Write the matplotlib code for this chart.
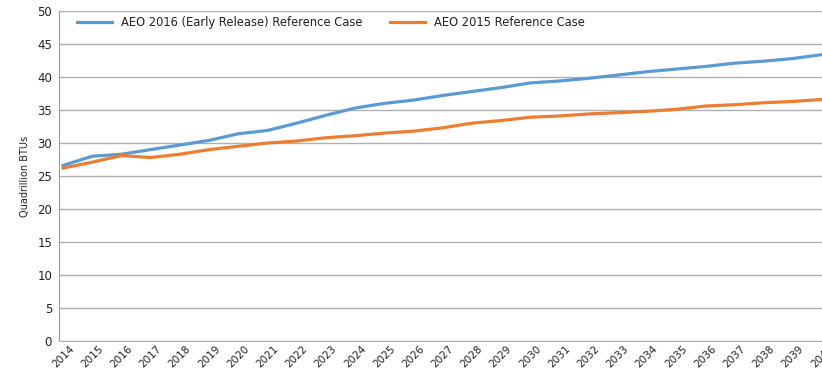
import matplotlib
matplotlib.use("Agg")
import matplotlib.pyplot as plt

years = list(range(2014, 2041))
aeo2016 = [26.6, 28.0, 28.3, 29.0, 29.7, 30.4, 31.4, 31.9, 33.0, 34.2, 35.3, 36.0, 36.5, 37.2,
           37.8, 38.4, 39.1, 39.4, 39.8, 40.3, 40.8, 41.2, 41.6, 42.1, 42.4, 42.8, 43.4]
aeo2015 = [26.2, 27.1, 28.1, 27.8, 28.3, 29.0, 29.5, 30.0, 30.3, 30.8, 31.1, 31.5, 31.8, 32.3,
           33.0, 33.4, 33.9, 34.1, 34.4, 34.6, 34.8, 35.1, 35.6, 35.8, 36.1, 36.3, 36.6]
series_names = ["AEO 2016 (Early Release) Reference Case", "AEO 2015 Reference Case"]

plt.rcParams['font.family'] = ['DejaVu Sans']

fig = plt.figure(figsize=(8.22, 3.8), dpi=100)
ax = fig.add_axes([0.0718, 0.1026, 0.9282, 0.8684])

ax.plot(years, aeo2016, color="#5B9BD5", lw=2.3, label=series_names[0])
ax.plot(years, aeo2015, color="#ED7D31", lw=2.3, label=series_names[1])

ax.set_ylim(0, 50)
ax.set_yticks(range(0, 51, 5))
ax.set_xlim(2013.86, 2040)
ax.set_xticks(years)
ax.set_xticklabels([str(y) for y in years], rotation=45, fontsize=7.5, ha="center",
                   color="#222222")
ax.tick_params(axis="y", labelsize=8.5, length=0, pad=5, labelcolor="#222222")
ax.tick_params(axis="x", length=0, pad=2)
ax.yaxis.grid(True, color="#b0b0b0", lw=1.0)
ax.set_axisbelow(True)
for s in ["top", "right"]:
    ax.spines[s].set_visible(False)
ax.spines["left"].set_color("#999999")
ax.spines["bottom"].set_color("#b0b0b0")
ax.set_ylabel("Quadrillion BTUs", fontsize=7, labelpad=5, color="#222222")

ax.legend(loc="upper left", ncol=2, frameon=False, fontsize=8.3, handlelength=3.0,
          columnspacing=2.4, bbox_to_anchor=(0.01, 1.015), labelcolor="#222222")

fig.savefig("out.png", dpi=100)
